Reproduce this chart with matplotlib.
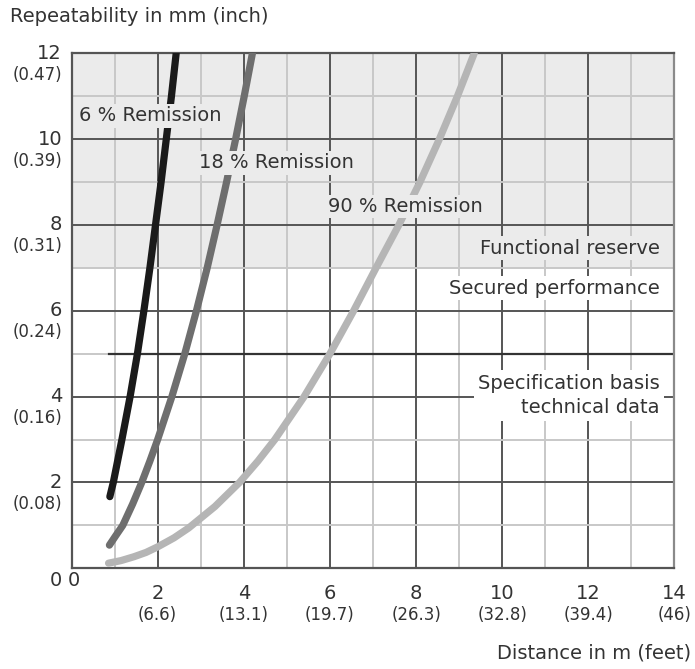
import matplotlib
matplotlib.use("Agg")
import matplotlib.pyplot as plt

# ---- data ----
x6 = [0.89, 0.97, 1.07, 1.17, 1.36, 1.53, 1.68, 1.82, 1.95, 2.08, 2.20, 2.32, 2.43]
y6 = [1.67, 2.0, 2.5, 3.0, 4.0, 5.0, 6.0, 7.0, 8.0, 9.0, 10.0, 11.0, 12.0]

x18 = [0.88, 1.02, 1.19, 1.42, 1.63, 1.82, 2.00, 2.33, 2.63, 2.90, 3.15, 3.38, 3.60, 3.81, 4.01, 4.20]
y18 = [0.54, 0.75, 1.0, 1.5, 2.0, 2.5, 3.0, 4.0, 5.0, 6.0, 7.0, 8.0, 9.0, 10.0, 11.0, 12.0]

x90 = [0.86, 1.15, 1.45, 1.73, 2.0, 2.38, 2.72, 3.33, 3.9, 4.33, 4.72, 5.40, 6.0, 6.55,
       7.07, 7.6, 8.09, 8.54, 8.96, 9.35]
y90 = [0.12, 0.18, 0.27, 0.37, 0.5, 0.71, 0.94, 1.44, 2.0, 2.5, 3.0, 4.0, 5.0, 6.0,
       7.0, 8.0, 9.0, 10.0, 11.0, 12.0]

x_ticks = [2, 4, 6, 8, 10, 12, 14]
x_feet = ["(6.6)", "(13.1)", "(19.7)", "(26.3)", "(32.8)", "(39.4)", "(46)"]
y_ticks = [2, 4, 6, 8, 10, 12]
y_inch = ["(0.08)", "(0.16)", "(0.24)", "(0.31)", "(0.39)", "(0.47)"]

reserve_span = (7, 12)
spec_line_y = 5
spec_line_x = (0.88, 14)

plt.rcParams['font.family'] = ['DejaVu Sans']
TXT = '#333333'

fig = plt.figure(figsize=(6.95, 6.69), dpi=100)
ax = fig.add_axes([0.1029, 0.1505, 0.8676, 0.7698])
ax.set_xlim(0, 14)
ax.set_ylim(0, 12)
ax.set_facecolor('white')

ax.axhspan(*reserve_span, color='#ebebeb', zorder=0, lw=0)

# grid
for v in range(1, 14):
    major = v % 2 == 0
    ax.axvline(v, color='#555555' if major else '#c8c8c8', lw=1.4, zorder=1)
for v in range(1, 12):
    major = v % 2 == 0
    ax.axhline(v, color='#555555' if major else '#c8c8c8', lw=1.4, zorder=1)
ax.plot(spec_line_x, [spec_line_y, spec_line_y], color='#333333', lw=1.6, zorder=1)

for s in ax.spines.values():
    s.set_color('#555555')
    s.set_linewidth(1.6)
ax.spines['right'].set_color('#8a8a8a')

ax.set_xticks([])
ax.set_yticks([])

lw = 5.2
ax.plot(x6, y6, color='#1a1a1a', lw=lw, solid_capstyle='round', solid_joinstyle='round', zorder=3)
ax.plot(x18, y18, color='#6e6e6e', lw=lw, solid_capstyle='round', solid_joinstyle='round', zorder=3)
ax.plot(x90, y90, color='#b5b5b5', lw=lw, solid_capstyle='round', solid_joinstyle='round', zorder=3)

fs = 14
def lab(x, y, s, fc, ha='left', pad=0.12):
    ax.text(x, y, s, fontsize=fs, color=TXT, ha=ha, va='center', zorder=5,
            bbox=dict(boxstyle=f'square,pad={pad}', fc=fc, ec='none'))

lab(0.17, 10.54, "6 % Remission", '#ebebeb')
lab(2.97, 9.45, "18 % Remission", '#ebebeb')
lab(5.96, 8.43, "90 % Remission", '#ebebeb')
lab(13.66, 7.46, "Functional reserve", '#ebebeb', ha='right')
lab(13.66, 6.53, "Secured performance", 'white', ha='right')
ax.text(13.66, 4.02, "Specification basis\ntechnical data", fontsize=fs, color=TXT,
        ha='right', va='center', zorder=5, linespacing=1.35,
        bbox=dict(boxstyle='square,pad=0.2', fc='white', ec='none'))

# tick labels
for v, s in zip(y_ticks, y_inch):
    ax.text(-0.22, v, str(v), fontsize=14, color=TXT, ha='right', va='center', clip_on=False)
    ax.text(-0.22, v - 0.5, s, fontsize=12, color=TXT, ha='right', va='center', clip_on=False)
ax.text(-0.22, -0.28, "0", fontsize=14, color=TXT, ha='right', va='center', clip_on=False)
ax.text(0.06, -0.28, "0", fontsize=14, color=TXT, ha='center', va='center', clip_on=False)
for v, s in zip(x_ticks, x_feet):
    ax.text(v, -0.58, str(v), fontsize=14, color=TXT, ha='center', va='center', clip_on=False)
    ax.text(v, -1.08, s, fontsize=12, color=TXT, ha='center', va='center', clip_on=False)

fig.text(10/695, 1 - 16/669, "Repeatability in mm (inch)", fontsize=14, color=TXT,
         ha='left', va='center')
fig.text(691/695, 1 - 653/669, "Distance in m (feet)", fontsize=14, color=TXT,
         ha='right', va='center')

fig.savefig('out.png', dpi=100)
